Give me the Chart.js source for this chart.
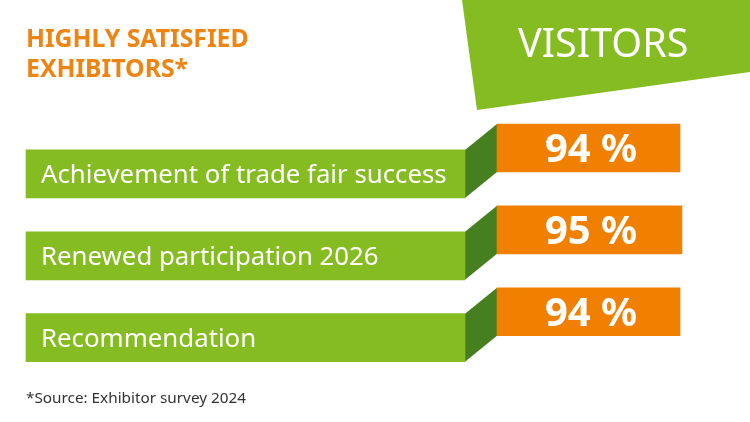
<!DOCTYPE html>
<html>
<head>
<meta charset="utf-8">
<style>
  html, body { margin: 0; background: #fff; }
  canvas { display: block; }
</style>
<script src="https://cdn.jsdelivr.net/npm/chart.js@4"></script>
</head>
<body>
<canvas id="chart" width="750" height="422"></canvas>
<script>
const categories = ["Achievement of trade fair success", "Renewed participation 2026", "Recommendation"];
const percents = [94, 95, 94];
const titleLines = ["HIGHLY SATISFIED", "EXHIBITORS*"];
const banner = "VISITORS";
const source = "*Source: Exhibitor survey 2024";

const GREEN = "#84bc22";
const DARK_GREEN = "#467f20";
const ORANGE = "#f28000";
const FONT = "'Noto Sans', sans-serif";

// x scale: 0 % sits where the orange bars start, 94 % where they end
const pxPerPct = 183 / 94;
const xMin = (26 - 497) / pxPerPct;
const xMax = (700 - 497) / pxPerPct;
const greenEnd = (465 - 497) / pxPerPct;

const decorations = {
  id: "decorations",
  beforeDatasetsDraw(chart) {
    const c = chart.ctx;
    // header shape
    c.fillStyle = GREEN;
    c.beginPath();
    c.moveTo(462, 0);
    c.lineTo(750, 0);
    c.lineTo(750, 72);
    c.lineTo(477, 110);
    c.closePath();
    c.fill();

    // dark side between each green and orange bar
    const greens = chart.getDatasetMeta(0).data;
    const oranges = chart.getDatasetMeta(1).data;
    c.fillStyle = DARK_GREEN;
    greens.forEach((g, i) => {
      const o = oranges[i];
      const gp = g.getProps(["x", "y", "base", "height"]);
      const op = o.getProps(["base", "y", "height"]);
      const right = Math.max(gp.x, gp.base);
      c.beginPath();
      c.moveTo(right, gp.y - gp.height / 2);
      c.lineTo(op.base, op.y - op.height / 2);
      c.lineTo(op.base, op.y + op.height / 2);
      c.lineTo(right, gp.y + gp.height / 2);
      c.closePath();
      c.fill();
    });
  },
  afterDatasetsDraw(chart) {
    const c = chart.ctx;
    c.save();
    c.fillStyle = "#fff";
    c.textBaseline = "middle";
    c.textAlign = "left";
    c.font = "39.5px " + FONT;
    c.fillText(banner, 518, 46);

    c.textAlign = "center";
    c.font = "bold 40px " + FONT;
    chart.getDatasetMeta(1).data.forEach((bar, i) => {
      const p = bar.getProps(["base", "y"]);
      c.fillText(percents[i] + " %", p.base + 94, p.y + 3);
    });
    c.restore();
  }
};

new Chart(document.getElementById("chart"), {
  type: "bar",
  plugins: [decorations],
  data: {
    datasets: [
      {
        data: categories.map((_, i) => ({ x: [xMin, greenEnd], y: i })),
        backgroundColor: GREEN,
        yAxisID: "y",
        barThickness: 48,
        grouped: false,
        clip: false
      },
      {
        data: percents.map((v, i) => ({ x: v, y: i })),
        backgroundColor: ORANGE,
        yAxisID: "yTop",
        barThickness: 48,
        grouped: false,
        clip: false
      }
    ]
  },
  options: {
    indexAxis: "y",
    responsive: false,
    animation: false,
    layout: { padding: { left: 26, right: 50 } },
    scales: {
      x: { type: "linear", min: xMin, max: xMax, display: false },
      y: {
        type: "linear",
        reverse: true,
        offset: false,
        min: -0.5,
        max: 2.5,
        border: { display: false },
        grid: { display: false, drawTicks: false },
        afterBuildTicks(axis) {
          // labels sit a touch under the bar centre
          axis.ticks = categories.map((_, i) => ({ value: i + 0.024 }));
        },
        afterFit(axis) {
          axis.width = 0;
        },
        ticks: {
          z: 1,
          mirror: true,
          padding: 15,
          color: "#fff",
          font: { family: FONT, size: 25.8 },
          callback: (v) => categories[Math.round(v)]
        }
      },
      yTop: {
        type: "linear",
        reverse: true,
        offset: false,
        min: -0.5 + 26 / 82,
        max: 2.5 + 26 / 82,
        display: false
      }
    },
    plugins: {
      legend: { display: false },
      tooltip: { enabled: false },
      title: {
        display: true,
        text: titleLines,
        align: "start",
        color: "#ee8412",
        font: { family: FONT, size: 24.8, weight: "bold", lineHeight: 1.21 },
        padding: { top: 25, bottom: 48 }
      },
      subtitle: {
        display: true,
        position: "bottom",
        text: source,
        align: "start",
        color: "#333",
        font: { family: FONT, size: 15.3 },
        padding: { top: 11, bottom: 14 }
      }
    }
  }
});
</script>
</body>
</html>
